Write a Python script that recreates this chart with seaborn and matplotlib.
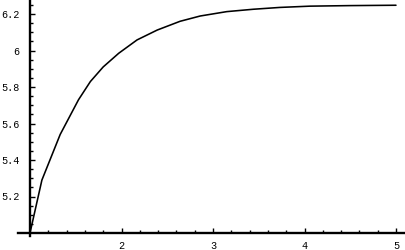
import numpy as np
import pandas as pd
import matplotlib
matplotlib.use("Agg")
import matplotlib.pyplot as plt
import seaborn as sns

# values
x_vals = [1.0, 1.13, 1.33, 1.53, 1.66, 1.80, 1.97, 2.17, 2.39, 2.64, 2.86,
          3.15, 3.44, 3.73, 4.06, 4.50, 5.0]
y_vals = [5.0, 5.29, 5.54, 5.73, 5.83, 5.91, 5.985, 6.058, 6.112, 6.16, 6.189,
          6.213, 6.226, 6.236, 6.243, 6.246, 6.248]

x_ticks = [2, 3, 4, 5]
x_labels = ["2", "3", "4", "5"]
y_ticks = [5.2, 5.4, 5.6, 5.8, 6.0, 6.2]
y_labels = ["5.2", "5.4", "5.6", "5.8", "6", "6.2"]

df = pd.DataFrame({"x": x_vals, "y": y_vals})

sns.set_style("white")
plt.rcParams["font.family"] = ["Liberation Mono", "DejaVu Sans Mono"]

fig = plt.figure(figsize=(4.05, 2.5), dpi=100)
ax = fig.add_axes([0, 0, 1, 1])
ax.set_facecolor("white")

sns.lineplot(data=df, x="x", y="y", ax=ax, color="black", linewidth=1.15,
             estimator=None, sort=False)

ax.set_xlim(1 - 30 / 91.5, 1 + 375 / 91.5)
ax.set_ylim(5 - 17 / 182.5, 5 + 233 / 182.5)

ax.spines["top"].set_visible(False)
ax.spines["right"].set_visible(False)
ax.spines["left"].set_position(("data", 1))
ax.spines["bottom"].set_position(("data", 5))
ax.spines["left"].set_bounds(4.985, 6.28)
ax.spines["bottom"].set_bounds(0.87, 5.1)
for s in ["left", "bottom"]:
    ax.spines[s].set_linewidth(1.7)
    ax.spines[s].set_color("black")

ax.set_xticks(x_ticks, labels=x_labels)
ax.set_yticks(y_ticks, labels=y_labels)
# minor ticks only inside the drawn axis lines
ax.set_xticks(np.arange(1.2, 5.05, 0.2), minor=True)
ax.set_yticks(np.arange(5.05, 6.27, 0.05), minor=True)
ax.tick_params(which="major", direction="in", length=3.8, width=1.0,
               color="black", labelsize=7.3, labelcolor="black")
ax.tick_params(which="minor", direction="in", length=2.2, width=1.0, color="black")
ax.tick_params(axis="x", which="both", bottom=True, pad=6)
ax.tick_params(axis="y", which="both", left=True, pad=7.5)

ax.set_xlabel("")
ax.set_ylabel("")

fig.savefig("out.png", dpi=100)
